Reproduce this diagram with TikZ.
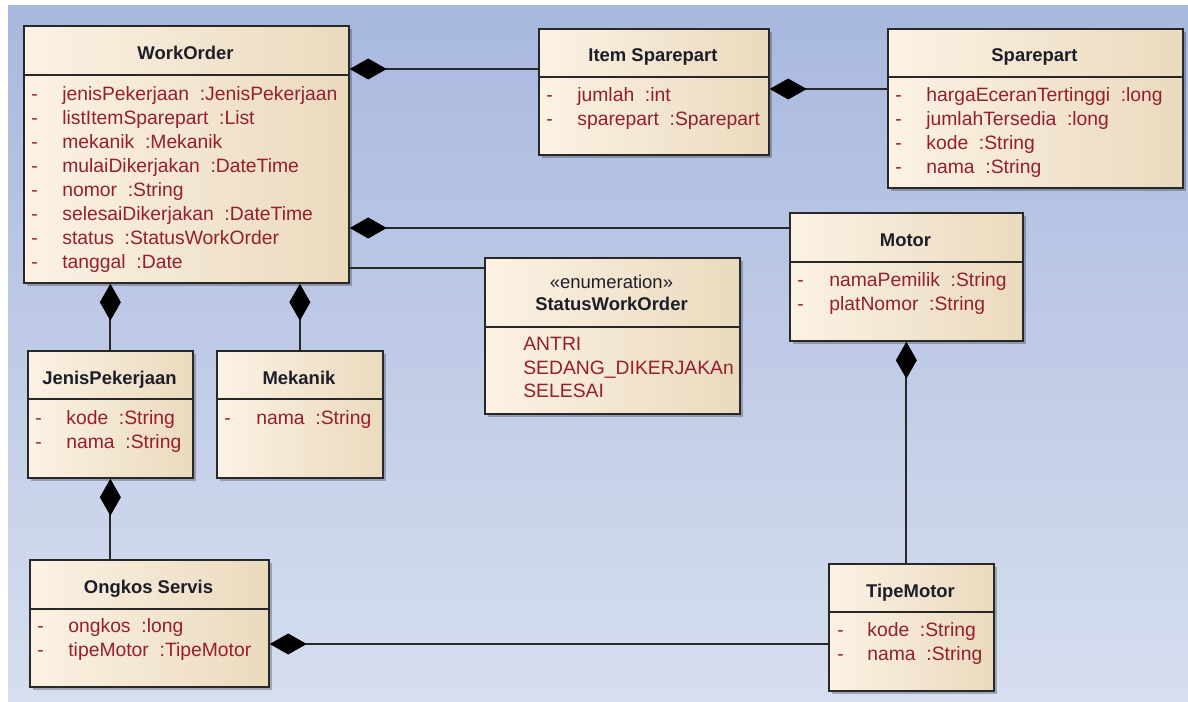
\documentclass[tikz,border=0pt]{standalone}
\usepackage{fontspec}
\setmainfont{Liberation Sans}
\usepackage{tikz}
\usetikzlibrary{calc,positioning,arrows.meta,shadows}
\usepackage{xcolor}
\definecolor{bgatas}{RGB}{168,184,222}
\definecolor{bgbawah}{RGB}{215,222,239}
\definecolor{krem}{RGB}{252,242,228}
\definecolor{kremtua}{RGB}{234,218,190}
\definecolor{garistepi}{RGB}{40,40,40}
\definecolor{merah}{RGB}{150,30,45}
\definecolor{judultinta}{RGB}{30,30,40}

\begin{document}
\begin{tikzpicture}[x=0.02cm,y=-0.02cm]
\tikzstyle{kelas}=[draw=garistepi, line width=1pt, left color=krem, right color=kremtua, anchor=north west, inner sep=0pt,
  drop shadow={shadow xshift=0.07cm, shadow yshift=-0.07cm, fill=black, opacity=0.25}]
\tikzstyle{judul}=[anchor=base, inner sep=0pt, text=judultinta, font=\bfseries\fontsize{10.5}{12}\selectfont]
\tikzstyle{atribut}=[anchor=base west, inner sep=0pt, text=merah, font=\fontsize{11}{13}\selectfont]
\tikzstyle{strip}=[atribut]
\tikzstyle{garis}=[draw=garistepi, line width=1pt]
\tikzstyle{komposisi}=[garis, {Diamond[length=0.74cm,width=0.42cm,color=black,fill=black]}-]

\useasboundingbox (0,0) rectangle (1188,702);
\fill[white] (0,0) rectangle (1188,702);
\shade[top color=bgatas, bottom color=bgbawah] (8,6) rectangle (1188,702);

% kelas-kelas
\node[kelas, minimum width=6.5cm, minimum height=5.14cm] (WorkOrder) at (23,25) {};
\node[kelas, minimum width=4.6cm, minimum height=2.52cm] (ItemSparepart) at (538,28) {};
\node[kelas, minimum width=5.9cm, minimum height=3.18cm] (Sparepart) at (887,28) {};
\node[kelas, minimum width=4.66cm, minimum height=2.56cm] (Motor) at (789,212) {};
\node[kelas, minimum width=5.1cm, minimum height=3.12cm] (StatusWorkOrder) at (484,257) {};
\node[kelas, minimum width=3.3cm, minimum height=2.54cm] (JenisPekerjaan) at (27,350) {};
\node[kelas, minimum width=3.32cm, minimum height=2.54cm] (Mekanik) at (216,350) {};
\node[kelas, minimum width=4.78cm, minimum height=2.54cm] (OngkosServis) at (29,559) {};
\node[kelas, minimum width=3.3cm, minimum height=2.54cm] (TipeMotor) at (828,563) {};

% garis pemisah
\draw[garis] (WorkOrder.west |- 0,75) -- (WorkOrder.east |- 0,75);
\draw[garis] (ItemSparepart.west |- 0,77) -- (ItemSparepart.east |- 0,77);
\draw[garis] (Sparepart.west |- 0,77) -- (Sparepart.east |- 0,77);
\draw[garis] (Motor.west |- 0,262) -- (Motor.east |- 0,262);
\draw[garis] (StatusWorkOrder.west |- 0,327) -- (StatusWorkOrder.east |- 0,327);
\draw[garis] (JenisPekerjaan.west |- 0,399) -- (JenisPekerjaan.east |- 0,399);
\draw[garis] (Mekanik.west |- 0,399) -- (Mekanik.east |- 0,399);
\draw[garis] (OngkosServis.west |- 0,609) -- (OngkosServis.east |- 0,609);
\draw[garis] (TipeMotor.west |- 0,612) -- (TipeMotor.east |- 0,612);

% judul
\node[judul] (WorkOrder-j) at (185.5,60) {WorkOrder};
\node[judul] (ItemSparepart-j) at (653,62) {Item Sparepart};
\node[judul] (Sparepart-j) at (1034.5,62) {Sparepart};
\node[judul] (Motor-j) at (905.5,247) {Motor};
\node[judul, font=\fontsize{10.5}{12}\selectfont] (StatusWorkOrder-s) at (611.5,289) {«enumeration»};
\node[judul] (StatusWorkOrder-j) at (611.5,311) {StatusWorkOrder};
\node[judul] (JenisPekerjaan-j) at (109.5,385) {JenisPekerjaan};
\node[judul] (Mekanik-j) at (299,385) {Mekanik};
\node[judul] (OngkosServis-j) at (148.5,594) {Ongkos Servis};
\node[judul] (TipeMotor-j) at (910.5,598) {TipeMotor};

% atribut
\foreach \a [count=\i] in {jenisPekerjaan~~:JenisPekerjaan, listItemSparepart~~:List, mekanik~~:Mekanik,
  mulaiDikerjakan~~:DateTime, nomor~~:String, selesaiDikerjakan~~:DateTime, status~~:StatusWorkOrder, tanggal~~:Date}{
  \node[strip] (WorkOrder-d\i) at (31,{101+23.9*(\i-1)}) {-};
  \node[atribut] (WorkOrder-a\i) at (62,{101+23.9*(\i-1)}) {\a};
}
\foreach \a [count=\i] in {jumlah~~:int, sparepart~~:Sparepart}{
  \node[strip] (ItemSparepart-d\i) at (546,{102+24*(\i-1)}) {-};
  \node[atribut] (ItemSparepart-a\i) at (577,{102+24*(\i-1)}) {\a};
}
\foreach \a [count=\i] in {hargaEceranTertinggi~~:long, jumlahTersedia~~:long, kode~~:String, nama~~:String}{
  \node[strip] (Sparepart-d\i) at (895,{102+23.7*(\i-1)}) {-};
  \node[atribut] (Sparepart-a\i) at (926,{102+23.7*(\i-1)}) {\a};
}
\foreach \a [count=\i] in {namaPemilik~~:String, platNomor~~:String}{
  \node[strip] (Motor-d\i) at (797,{287+23.5*(\i-1)}) {-};
  \node[atribut] (Motor-a\i) at (829,{287+23.5*(\i-1)}) {\a};
}
\foreach \a [count=\i] in {ANTRI, SEDANG\_DIKERJAKAn, SELESAI}{
  \node[atribut] (StatusWorkOrder-a\i) at (523,{351+23.5*(\i-1)}) {\a};
}
\foreach \a [count=\i] in {kode~~:String, nama~~:String}{
  \node[strip] (JenisPekerjaan-d\i) at (35,{425+23.5*(\i-1)}) {-};
  \node[atribut] (JenisPekerjaan-a\i) at (66,{425+23.5*(\i-1)}) {\a};
}
\node[strip] (Mekanik-d1) at (224,425) {-};
\node[atribut] (Mekanik-a1) at (256,425) {nama~~:String};
\foreach \a [count=\i] in {ongkos~~:long, tipeMotor~~:TipeMotor}{
  \node[strip] (OngkosServis-d\i) at (37,{633+24*(\i-1)}) {-};
  \node[atribut] (OngkosServis-a\i) at (68,{633+24*(\i-1)}) {\a};
}
\foreach \a [count=\i] in {kode~~:String, nama~~:String}{
  \node[strip] (TipeMotor-d\i) at (837,{637+24*(\i-1)}) {-};
  \node[atribut] (TipeMotor-a\i) at (867,{637+24*(\i-1)}) {\a};
}

% relasi
\draw[komposisi] (WorkOrder.east |- 0,69) -- (ItemSparepart.west |- 0,69);
\draw[komposisi] (ItemSparepart.east |- 0,89) -- (Sparepart.west |- 0,89);
\draw[komposisi] (WorkOrder.east |- 0,228) -- (Motor.west |- 0,228);
\draw[garis] (WorkOrder.east |- 0,268) -- (StatusWorkOrder.west |- 0,268);
\draw[komposisi] (JenisPekerjaan.north |- WorkOrder.south) -- (JenisPekerjaan.north);
\draw[komposisi] (Mekanik.north |- WorkOrder.south) -- (Mekanik.north);
\draw[komposisi] (JenisPekerjaan.south) -- (JenisPekerjaan.south |- OngkosServis.north);
\draw[komposisi] (Motor.south) -- (Motor.south |- TipeMotor.north);
\draw[komposisi] (OngkosServis.east |- 0,644) -- (TipeMotor.west |- 0,644);
\end{tikzpicture}
\end{document}
